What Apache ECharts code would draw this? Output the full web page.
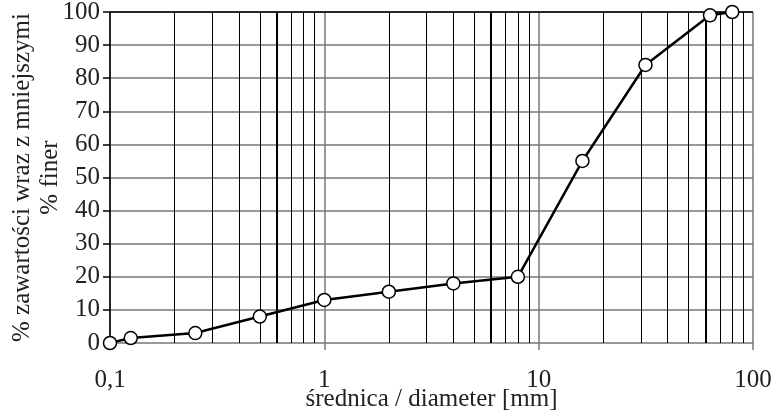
<!DOCTYPE html>
<html>
<head>
<meta charset="utf-8">
<script src="https://cdn.jsdelivr.net/npm/echarts@6/dist/echarts.min.js"></script>
<style>
html,body{margin:0;padding:0;background:#fff;}
#chart{width:780px;height:414px;}
</style>
</head>
<body>
<div id="chart"></div>
<script>
// sieve sizes [mm] and cumulative % passing
var diameters = [0.1, 0.125, 0.25, 0.5, 1, 2, 4, 8, 16, 31.5, 63, 80];
var finer = [0, 1.5, 3, 8, 13, 15.5, 18, 20, 55, 84, 99, 100];
// vertical grid lines of the log paper
var minorLines = [0.2, 0.3, 0.4, 0.5, 0.6, 0.7, 0.8, 0.9,
                  2, 3, 4, 5, 6, 7, 8, 9,
                  20, 30, 40, 50, 60, 70, 80, 90];
var boldLines = [0.6, 6, 60];

var font = 'Liberation Serif';
var chart = echarts.init(document.getElementById('chart'));

var gridData = minorLines.map(function(v){
	return {
		xAxis: v,
		lineStyle: {width: boldLines.indexOf(v) >= 0 ? 2 : 1}
	};
});
gridData.push({yAxis: 100, lineStyle: {width: 1.5}});

var option = {
	animation: false,
	grid: {left: 110, right: 27, top: 12, bottom: 71, containLabel: false, outerBoundsMode: 'none'},
	xAxis: {
		type: 'log',
		logBase: 10,
		min: 0.1,
		max: 100,
		name: 'średnica / diameter [mm]',
		nameLocation: 'middle',
		nameGap: 44,
		nameMoveOverlap: false,
		nameTextStyle: {fontFamily: font, fontSize: 25, color: '#222'},
		axisLine: {show: false},
		axisTick: {show: true, length: 7, lineStyle: {color: '#777', width: 1.5}},
		axisLabel: {
			margin: 25,
			fontFamily: font, fontSize: 25, color: '#222',
			formatter: function(v){
				return String(Math.round(v * 10) / 10).replace('.', ',');
			}
		},
		splitLine: {show: true, lineStyle: {color: '#777', width: 1.5}},
		minorTick: {show: false},
		minorSplitLine: {show: false}
	},
	yAxis: {
		type: 'value',
		min: 0,
		max: 100,
		interval: 10,
		name: '% zawartości wraz z mniejszymi\n% finer',
		nameLocation: 'middle',
		nameGap: 46,
		nameMoveOverlap: false,
		nameTextStyle: {fontFamily: font, fontSize: 25, color: '#222', lineHeight: 28},
		axisLine: {show: true, lineStyle: {color: '#000', width: 1.5}},
		axisTick: {show: true, length: 7, lineStyle: {color: '#000', width: 1.5}},
		axisLabel: {margin: 10, fontFamily: font, fontSize: 25, color: '#222'},
		splitLine: {show: true, lineStyle: {color: '#777', width: 1.5}}
	},
	series: [
		{
			type: 'line',
			data: diameters.map(function(d, i){ return [d, finer[i]]; }),
			clip: false,
			symbol: 'circle',
			symbolSize: 13,
			z: 5,
			lineStyle: {color: '#000', width: 2.5},
			itemStyle: {color: '#fff', borderColor: '#000', borderWidth: 1.5},
			markLine: {
				silent: true,
				symbol: 'none',
				label: {show: false},
				z: 1,
				lineStyle: {color: '#000', type: 'solid', width: 1},
				data: gridData
			}
		}
	]
};
chart.setOption(option);
</script>
</body>
</html>
